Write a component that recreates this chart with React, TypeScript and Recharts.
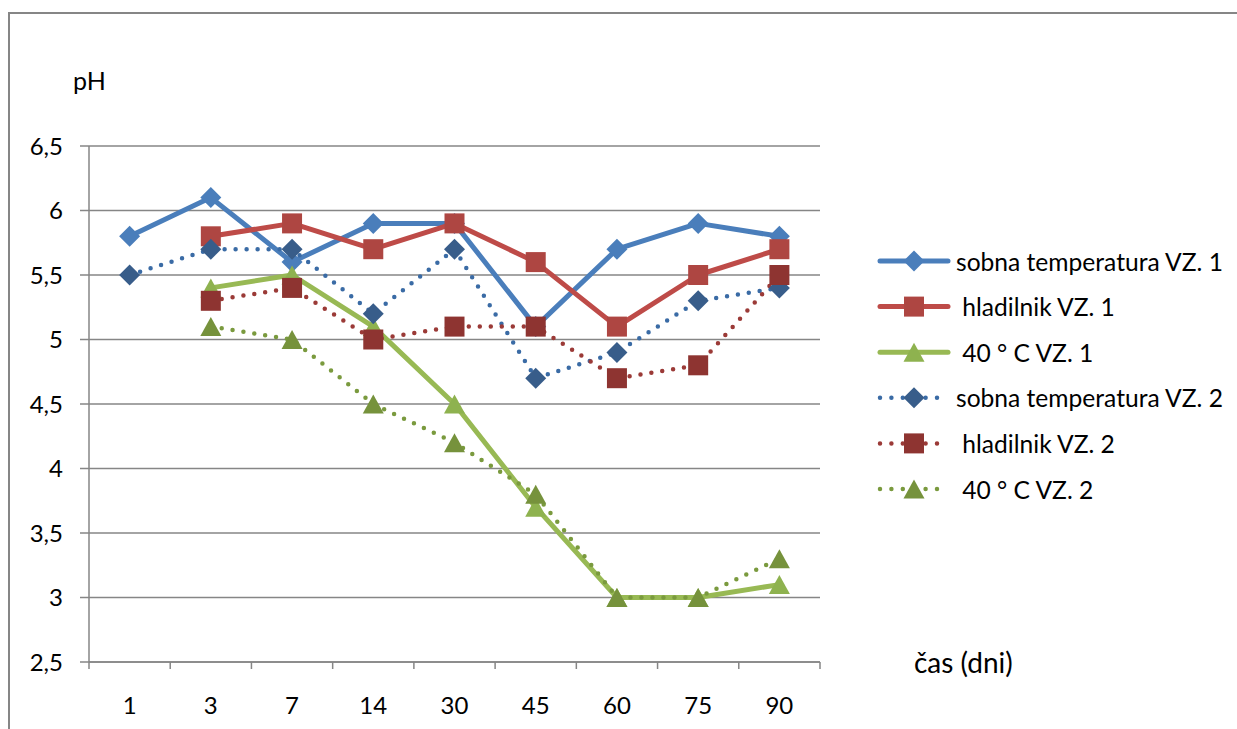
import React from 'react';
import { LineChart, Line, XAxis, YAxis, CartesianGrid } from 'recharts';

const days = ['1', '3', '7', '14', '30', '45', '60', '75', '90'];

const sobnaVz1 = [5.8, 6.1, 5.6, 5.9, 5.9, 5.1, 5.7, 5.9, 5.8];
const hladilnikVz1 = [null, 5.8, 5.9, 5.7, 5.9, 5.6, 5.1, 5.5, 5.7];
const c40Vz1 = [null, 5.4, 5.5, 5.1, 4.5, 3.7, 3.0, 3.0, 3.1];
const sobnaVz2 = [5.5, 5.7, 5.7, 5.2, 5.7, 4.7, 4.9, 5.3, 5.4];
const hladilnikVz2 = [null, 5.3, 5.4, 5.0, 5.1, 5.1, 4.7, 4.8, 5.5];
const c40Vz2 = [null, 5.1, 5.0, 4.5, 4.2, 3.8, 3.0, 3.0, 3.3];

const yTicks = [2.5, 3, 3.5, 4, 4.5, 5, 5.5, 6, 6.5];

const FONT = 'Lato, "Noto Sans", sans-serif';
const AXIS_GREY = '#868686';

type Shape = 'diamond' | 'square' | 'triangle';

interface Series {
  key: string;
  name: string;
  values: (number | null)[];
  line: string;
  marker: string;
  dotted: boolean;
  shape: Shape;
}

const series: Series[] = [
  { key: 's1', name: 'sobna temperatura VZ. 1', values: sobnaVz1, line: '#4A7EBB', marker: '#4A7EBB', dotted: false, shape: 'diamond' },
  { key: 'h1', name: ' hladilnik VZ. 1', values: hladilnikVz1, line: '#BE4B48', marker: '#AE4642', dotted: false, shape: 'square' },
  { key: 'c1', name: ' 40 ° C VZ. 1', values: c40Vz1, line: '#98B954', marker: '#8EB24F', dotted: false, shape: 'triangle' },
  { key: 's2', name: 'sobna temperatura VZ. 2', values: sobnaVz2, line: '#3A6BA5', marker: '#385D8A', dotted: true, shape: 'diamond' },
  { key: 'h2', name: ' hladilnik VZ. 2', values: hladilnikVz2, line: '#9B3A37', marker: '#8E3431', dotted: true, shape: 'square' },
  { key: 'c2', name: ' 40 ° C VZ. 2', values: c40Vz2, line: '#7A9A3E', marker: '#76923C', dotted: true, shape: 'triangle' },
];

// categories sit in the middle of each band; integer ticks mark band edges
const data = days.map((day, i) => {
  const row: Record<string, number | string | null> = { x: i + 0.5, day };
  series.forEach((s) => {
    row[s.key] = s.values[i];
  });
  return row;
});

const xTicks = [...days.flatMap((_, i) => [i, i + 0.5]), days.length];

function Marker({ shape, cx, cy, fill }: { shape: Shape; cx: number; cy: number; fill: string }) {
  if (shape === 'diamond') {
    const r = 10.5;
    return <polygon points={`${cx},${cy - r} ${cx + r},${cy} ${cx},${cy + r} ${cx - r},${cy}`} fill={fill} />;
  }
  if (shape === 'square') {
    return <rect x={cx - 10} y={cy - 10} width={20} height={20} fill={fill} />;
  }
  return <polygon points={`${cx},${cy - 9.5} ${cx + 10.5},${cy + 9.5} ${cx - 10.5},${cy + 9.5}`} fill={fill} />;
}

function makeDot(s: Series) {
  return (props: any) => {
    const { cx, cy, index, value } = props;
    if (value == null || cy == null || isNaN(cy)) return <g key={`${s.key}-${index}`} />;
    return (
      <g key={`${s.key}-${index}`}>
        <Marker shape={s.shape} cx={cx} cy={cy} fill={s.marker} />
      </g>
    );
  };
}

function DayTick(props: any) {
  const { x, y, payload } = props;
  const v = payload.value as number;
  if (Number.isInteger(v)) {
    return <line x1={x} x2={x} y1={y} y2={y + 7} stroke={AXIS_GREY} strokeWidth={1.5} />;
  }
  return (
    <text x={x} y={y + 42} textAnchor="middle" dominantBaseline="central" fontFamily={FONT} fontSize={24} fill="#000">
      {days[Math.floor(v)]}
    </text>
  );
}

function LegendSample({ s, y }: { s: Series; y: number }) {
  return (
    <g>
      <line
        x1={880}
        x2={948}
        y1={y}
        y2={y}
        stroke={s.line}
        strokeWidth={s.dotted ? 4.5 : 5}
        strokeLinecap="round"
        strokeDasharray={s.dotted ? '0 11.4' : undefined}
      />
      <Marker shape={s.shape} cx={914} cy={y} fill={s.marker} />
      <text x={956} y={y} dominantBaseline="central" fontFamily={FONT} fontSize={24.6} fill="#000" style={{ whiteSpace: 'pre' }}>
        {s.name}
      </text>
    </g>
  );
}

export default function App() {
  return (
    <div style={{ position: 'absolute', left: 0, top: 0, width: 1237, height: 729, overflow: 'hidden', background: '#fff' }}>
      <div
        style={{
          position: 'absolute',
          left: 8,
          top: 12,
          width: 1400,
          height: 900,
          borderLeft: `2px solid ${AXIS_GREY}`,
          borderTop: `2px solid ${AXIS_GREY}`,
        }}
      />
      <div style={{ position: 'absolute', left: 0, top: 0 }}>
        <LineChart width={1237} height={729} data={data} margin={{ top: 146, right: 417, bottom: 0, left: 29 }}>
          <CartesianGrid vertical={false} stroke={AXIS_GREY} strokeWidth={1.5} />
          <XAxis
            dataKey="x"
            type="number"
            domain={[0, days.length]}
            ticks={xTicks}
            interval={0}
            height={67}
            tickSize={0}
            tickMargin={0}
            tickLine={false}
            axisLine={{ stroke: AXIS_GREY, strokeWidth: 1.5 }}
            tick={<DayTick />}
          />
          <YAxis
            type="number"
            domain={[2.5, 6.5]}
            ticks={yTicks}
            interval={0}
            width={60}
            tickSize={9}
            tickMargin={17}
            tickFormatter={(v: number) => String(v).replace('.', ',')}
            axisLine={{ stroke: AXIS_GREY, strokeWidth: 1.5 }}
            tickLine={{ stroke: AXIS_GREY, strokeWidth: 1.5 }}
            tick={{ fill: '#000', fontSize: 24, fontFamily: FONT }}
          />
          {series.map((s) => (
            <Line
              key={s.key}
              type="linear"
              dataKey={s.key}
              name={s.name}
              stroke={s.line}
              strokeWidth={s.dotted ? 4.5 : 5}
              strokeLinecap="round"
              strokeLinejoin="round"
              strokeDasharray={s.dotted ? '0 11' : undefined}
              dot={makeDot(s)}
              activeDot={false}
              isAnimationActive={false}
            />
          ))}
        </LineChart>
      </div>
      <svg width={1237} height={729} style={{ position: 'absolute', left: 0, top: 0, pointerEvents: 'none' }}>
        <text x={73} y={80} dominantBaseline="central" fontFamily={FONT} fontSize={25} fill="#000">
          pH
        </text>
        <text x={914} y={662} dominantBaseline="central" fontFamily={FONT} fontSize={28} fill="#000">
          čas (dni)
        </text>
        {series.map((s, i) => (
          <LegendSample key={s.key} s={s} y={261 + i * 45.6} />
        ))}
      </svg>
    </div>
  );
}
